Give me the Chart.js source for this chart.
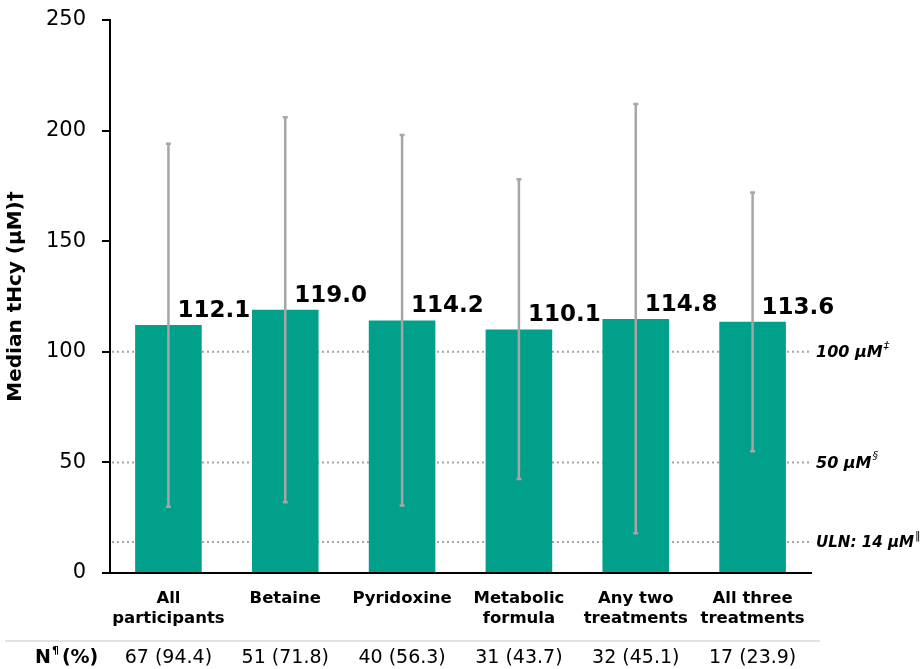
<!DOCTYPE html>
<html>
<head>
<meta charset="utf-8">
<script src="https://cdn.jsdelivr.net/npm/chart.js@4/dist/chart.umd.min.js"></script>
<style>
  html, body { margin: 0; padding: 0; background: #fff; }
  #wrap { width: 923px; height: 669px; position: relative; }
</style>
</head>
<body>
<div id="wrap"><canvas id="tHcyChart"></canvas></div>
<script>
// data
const categories = [['All', 'participants'], ['Betaine'], ['Pyridoxine'], ['Metabolic', 'formula'], ['Any two', 'treatments'], ['All three', 'treatments']];
const medians = [112.1, 119.0, 114.2, 110.1, 114.8, 113.6];
const rangeLow = [30, 32, 30.5, 42.5, 18, 55];
const rangeHigh = [194, 206, 198, 178, 212, 172];
const nLabels = ['67 (94.4)', '51 (71.8)', '40 (56.3)', '31 (43.7)', '32 (45.1)', '17 (23.9)'];
const refValues = [100, 50, 14];
const refLabels = ['100 µM', '50 µM', 'ULN: 14 µM'];
const refMarks = ['‡', '§', '‖'];

const teal = '#00A08A';
const grey = '#A6A6A6';
const FONT = '"DejaVu Sans", Verdana, sans-serif';

// dotted reference lines go behind the bars
const refLinePlugin = {
  id: 'refLines',
  beforeDatasetsDraw(chart) {
    const ctx = chart.ctx, y = chart.scales.y, area = chart.chartArea;
    ctx.save();
    ctx.strokeStyle = grey;
    ctx.lineWidth = 2;
    ctx.setLineDash([2, 3]);
    refValues.forEach(v => {
      const py = y.getPixelForValue(v);
      ctx.beginPath();
      ctx.moveTo(area.left + 2, py);
      ctx.lineTo(area.right - 2, py);
      ctx.stroke();
    });
    ctx.setLineDash([]);
    ctx.fillStyle = '#000';
    ctx.textBaseline = 'middle';
    refValues.forEach((v, i) => {
      const py = y.getPixelForValue(v);
      ctx.font = 'italic bold 16px ' + FONT;
      const w = Math.min(ctx.measureText(refLabels[i]).width, 98);
      ctx.fillText(refLabels[i], area.right + 5, py + 1, 98);
      ctx.font = 'italic 11px ' + FONT;
      ctx.fillText(refMarks[i], area.right + 6 + w, py - 6);
    });
    ctx.restore();
  }
};

// range whiskers, value labels and the N row
const overlayPlugin = {
  id: 'overlay',
  afterDatasetsDraw(chart) {
    const ctx = chart.ctx, x = chart.scales.x, y = chart.scales.y;
    ctx.save();
    ctx.strokeStyle = grey;
    ctx.lineWidth = 2.5;
    medians.forEach((m, i) => {
      const px = x.getPixelForValue(i);
      const top = y.getPixelForValue(rangeHigh[i]);
      const bot = y.getPixelForValue(rangeLow[i]);
      ctx.beginPath();
      ctx.moveTo(px, top);
      ctx.lineTo(px, bot);
      ctx.moveTo(px - 2.5, top);
      ctx.lineTo(px + 2.5, top);
      ctx.moveTo(px - 2.5, bot);
      ctx.lineTo(px + 2.5, bot);
      ctx.stroke();
    });
    ctx.fillStyle = '#000';
    ctx.font = 'bold 23px ' + FONT;
    ctx.textAlign = 'left';
    ctx.textBaseline = 'alphabetic';
    medians.forEach((m, i) => {
      const px = x.getPixelForValue(i);
      ctx.fillText(m.toFixed(1), px + 9, y.getPixelForValue(m) - 8);
    });

    // N row
    ctx.strokeStyle = '#D9D9D9';
    ctx.lineWidth = 1.5;
    ctx.beginPath();
    ctx.moveTo(5, 641);
    ctx.lineTo(820, 641);
    ctx.stroke();
    ctx.textBaseline = 'middle';
    ctx.font = 'bold 19px ' + FONT;
    ctx.fillText('N', 35, 658);
    let w = ctx.measureText('N').width;
    ctx.font = 'bold 11px ' + FONT;
    ctx.fillText('¶', 35 + w + 1, 651);
    ctx.font = 'bold 19px ' + FONT;
    ctx.fillText('(%)', 35 + w + 11, 658);
    ctx.font = '19px ' + FONT;
    ctx.textAlign = 'center';
    nLabels.forEach((t, i) => {
      ctx.fillText(t, x.getPixelForValue(i), 658);
    });
    ctx.restore();
  }
};

new Chart(document.getElementById('tHcyChart'), {
  type: 'bar',
  data: {
    labels: categories,
    datasets: [{
      label: 'Median tHcy',
      data: medians,
      backgroundColor: teal,
      borderWidth: 0,
      categoryPercentage: 1,
      barPercentage: 0.57
    }]
  },
  options: {
    responsive: true,
    maintainAspectRatio: false,
    animation: false,
    layout: { padding: { left: 0, right: 112, top: 20, bottom: 0 } },
    plugins: { legend: { display: false }, tooltip: { enabled: false } },
    scales: {
      x: {
        grid: { display: false },
        border: { display: true, color: '#000', width: 2 },
        ticks: {
          color: '#000', padding: 8, maxRotation: 0, autoSkip: false,
          font: { family: FONT, size: 16.5, weight: 'bold', lineHeight: 1.2 }
        },
        afterFit(scale) { scale.height = 96; }
      },
      y: {
        min: 0, max: 250,
        grid: { display: true, drawOnChartArea: false, drawTicks: true, tickLength: 8, color: '#000', lineWidth: 2 },
        border: { display: true, color: '#000', width: 2 },
        ticks: { stepSize: 50, color: '#000', padding: 16, font: { family: FONT, size: 21 } },
        title: {
          display: true, text: 'Median tHcy (µM)†', color: '#000',
          font: { family: FONT, size: 20, weight: 'bold' }, padding: { top: 4, bottom: 0 }
        },
        afterFit(scale) { scale.width = 110; scale.paddingTop = 0; }
      }
    }
  },
  plugins: [refLinePlugin, overlayPlugin]
});
</script>
</body>
</html>
